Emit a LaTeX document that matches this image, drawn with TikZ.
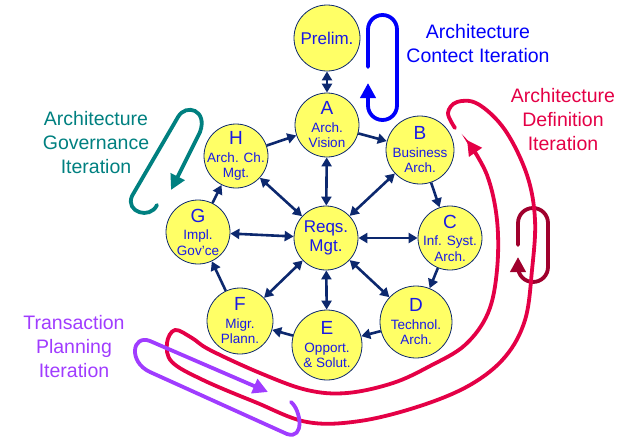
\documentclass[tikz,border=0pt]{standalone}
\usepackage{fontspec}
\setmainfont{Liberation Sans}
\usetikzlibrary{arrows.meta}
\definecolor{nodeyellow}{RGB}{255,255,102}
\definecolor{navy}{RGB}{12,40,110}
\definecolor{textblue}{RGB}{25,25,230}
\definecolor{loopblue}{RGB}{0,0,250}
\definecolor{loopteal}{RGB}{0,128,128}
\definecolor{loopred}{RGB}{228,0,70}
\definecolor{loopmaroon}{RGB}{160,0,45}
\definecolor{looppurple}{RGB}{160,60,255}
\tikzset{
  phase/.style={circle, draw=navy, line width=0.8pt, fill=nodeyellow, inner sep=0pt},
  ptext/.style={text=textblue, align=center, inner sep=0pt, font=\fontsize{13.5}{15.5}\selectfont},
  bigtext/.style={text=textblue, align=center, inner sep=0pt, font=\fontsize{17}{19}\selectfont},
  link/.style={draw=navy, line width=2.6pt, ->, >={Triangle[length=9pt,width=10pt]}},
  dlink/.style={link, <->},
  loop/.style={line width=3.8pt, line cap=round, -{Triangle[length=15pt,width=15pt]}},
  looplabel/.style={align=center, inner sep=0pt, font=\fontsize{19.5}{24}\selectfont}
}
\newcommand{\pletter}[1]{{\fontsize{19}{19}\selectfont #1}}
\begin{document}
\begin{tikzpicture}[x=1pt,y=-1pt]
\useasboundingbox (0,0) rectangle (631,437);

% phases
\node[phase, minimum size=66pt] (P) at (327,38) {};
\node[phase, minimum size=64pt] (A) at (327,125) {};
\node[phase, minimum size=68pt] (B) at (420,150) {};
\node[phase, minimum size=64pt] (C) at (450,238) {};
\node[phase, minimum size=72pt] (D) at (416,322) {};
\node[phase, minimum size=70pt] (E) at (327,345) {};
\node[phase, minimum size=66pt] (F) at (240,321) {};
\node[phase, minimum size=64pt] (G) at (198,232) {};
\node[phase, minimum size=64pt] (H) at (236,156) {};
\node[phase, minimum size=64pt] (R) at (326,238) {};

\node[bigtext] (Pt) at (P) {Prelim.};
\node[ptext] (At) at (A) {\pletter{A}\\[2pt]Arch.\\Vision};
\node[ptext] (Bt) at (B) {\pletter{B}\\[2pt]Business\\Arch.};
\node[ptext] (Ct) at (C) {\pletter{C}\\[2pt]Inf. Syst.\\Arch.};
\node[ptext] (Dt) at (D) {\pletter{D}\\[2pt]Technol.\\Arch.};
\node[ptext] (Et) at (E) {\pletter{E}\\[2pt]Opport.\\\& Solut.};
\node[ptext] (Ft) at (F) {\pletter{F}\\[2pt]Migr.\\Plann.};
\node[ptext] (Gt) at (G) {\pletter{G}\\[2pt]Impl.\\Gov'ce};
\node[ptext] (Ht) at (H) {\pletter{H}\\[2pt]Arch. Ch.\\Mgt.};
\node[bigtext] (Rt) at (R) {Reqs.\\Mgt.};

% cycle arrows
\draw[dlink] (P) -- (A);
\draw[link] (A) -- (B);
\draw[link] (B) -- (C);
\draw[link] (C) -- (D);
\draw[link] (D) -- (E);
\draw[link] (E) -- (F);
\draw[link] (F) -- (G);
\draw[link] (G) -- (H);
\draw[link] (H) -- (A);
\foreach \n in {A,B,C,D,E,F,G,H} \draw[dlink] (R) -- (\n);

% blue loop
\draw[loop, color=loopblue] (368,67) -- (368,29.5)
  arc[start angle=180, end angle=0, radius=14.5pt] -- (397,105.5)
  arc[start angle=0, end angle=-180, radius=14.5pt] -- (368,83);
\node[looplabel, text=loopblue] (Lb) at (478,44) {Architecture\\Contect Iteration};

% teal loop
\draw[loop, color=loopteal] (157,205) .. controls (150,220) and (125,212) .. (132,196)
  -- (178,117) .. controls (186,103) and (208,110) .. (200,132) -- (171,190);
\node[looplabel, text=loopteal] (Lt) at (96,143) {Architecture\\Governance\\Iteration};

% maroon loop
\draw[loop, color=loopmaroon] (518,245) -- (518,223)
  arc[start angle=180, end angle=0, radius=15pt] -- (548,267)
  arc[start angle=0, end angle=-180, radius=15pt] -- (518,257);

% red loop
\draw[loop, color=loopred] plot[smooth, tension=0.6] coordinates {
  (455,128) (448,113) (457,102) (478,104) (505,130) (527,175) (535,220)
  (532,270) (525,320) (505,357) (470,385) (420,406) (360,421) (307,422)
  (255,402) (203,380) (172,362) (167,343) (175,330) (192,338) (210,350)
  (260,373) (307,390) (347,393) (393,383) (430,366) (465,345) (488,313)
  (497,270) (497,220) (487,175) (467,140)};
\node[looplabel, text=loopred] (Lr) at (563,120) {Architecture\\Definition\\Iteration};

% purple loop
\draw[loop, color=looppurple] (291,402) .. controls (301,410) and (305,440) .. (287,434)
  -- (150,372) .. controls (128,362) and (132,334) .. (150,341) -- (268,392);
\node[looplabel, text=looppurple] (Lp) at (74,347) {Transaction\\Planning\\Iteration};
\end{tikzpicture}
\end{document}
